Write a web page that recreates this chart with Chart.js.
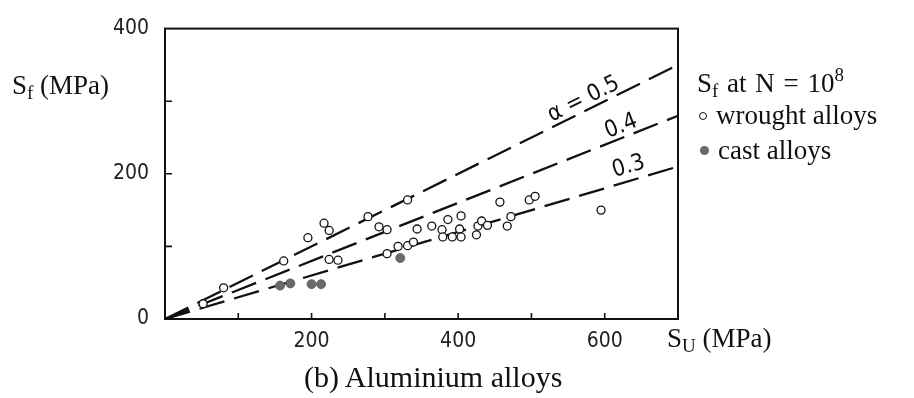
<!DOCTYPE html>
<html lang="en">
<head>
<meta charset="UTF-8">
<title>Aluminium alloys</title>
<script src="https://cdn.jsdelivr.net/npm/chart.js"></script>
<style>
    body { margin: 0; background: #fff; }
    .wrap { position: relative; width: 914px; height: 398px; }
    .txt {
        position: absolute;
        font-family: "Liberation Serif", "Times New Roman", serif;
        font-size: 27px;
        line-height: 1;
        color: #111;
        white-space: nowrap;
    }
    .txt sub { font-size: 19px; vertical-align: -5px; }
    .txt sup { font-size: 19px; vertical-align: 11px; }
    .dot { display: inline-block; border-radius: 50%; vertical-align: 4px; margin-right: 9px; }
    .open { width: 6px; height: 6px; border: 1.4px solid #111; }
    .full { width: 9px; height: 9px; background: #6a6a6a; }
</style>
</head>
<body>
<div class="wrap">
    <canvas id="chart" width="914" height="398"></canvas>
    <div class="txt" style="left:12px; top:72px;">S<sub>f</sub> (MPa)</div>
    <div class="txt" style="left:667px; top:325px;">S<sub>U</sub> (MPa)</div>
    <div class="txt" style="left:697px; top:65px; word-spacing:2px;">S<sub>f</sub> at N = 10<sup>8</sup></div>
    <div class="txt" style="left:699px; top:102px;"><span class="dot open"></span>wrought alloys</div>
    <div class="txt" style="left:700px; top:137px;"><span class="dot full"></span>cast alloys</div>
    <div class="txt" style="left:304px; top:362px; font-size:30px;">(b) Aluminium alloys</div>
</div>

<script>
// fatigue strength vs ultimate strength, MPa
const wroughtSu = [52, 80, 162, 195, 217, 224, 224, 236, 277, 292, 303, 303, 318, 331, 331, 339, 344, 364,
    378, 379, 386, 392, 402, 404, 404, 425, 427, 432, 440, 457, 467, 472, 497, 505, 595];
const wroughtSf = [21, 43, 80, 112, 132, 122, 82, 81, 141, 127, 123, 90, 100, 164, 101, 106, 124, 128,
    123, 113, 137, 113, 124, 113, 142, 116, 128, 135, 129, 161, 128, 141, 164, 169, 150];

const castSu = [157, 171, 200, 213, 321];
const castSf = [46, 49, 48, 48, 84];

// Sf = alpha * Su reference lines
const alphas = [0.5, 0.4, 0.3];
const lineSu = [0, 700];
const lineEndSf = [350, 280, 210];
const lineNames = ["\u03b1 = 0.5", "0.4", "0.3"];

const xTickLabels = [200, 400, 600];
const yTickLabels = [0, 200, 400];

const tickFont = { family: "'DejaVu Sans Condensed', 'DejaVu Sans', sans-serif", size: 21 };

function toPoints(xs, ys) {
    return xs.map((x, i) => ({ x: x, y: ys[i] }));
}

const lineSets = alphas.map((a, i) => ({
    type: "line",
    label: lineNames[i],
    data: toPoints(lineSu, [0, lineEndSf[i]]),
    borderColor: "#111",
    borderWidth: 2.3,
    borderDash: [26, 10],
    pointRadius: 0,
    order: 2
}));

// box around plot + ticks pointing inwards
const frame = {
    id: "frame",
    beforeDatasetsDraw(chart) {
        const { ctx, chartArea: a, scales } = chart;
        ctx.save();
        ctx.strokeStyle = "#111";
        ctx.lineWidth = 2;
        ctx.strokeRect(a.left, a.top, a.right - a.left, a.bottom - a.top);
        ctx.lineWidth = 1.6;
        ctx.beginPath();
        scales.x.ticks.forEach(t => {
            if (t.value <= 0 || t.value >= 700) return;
            const px = scales.x.getPixelForValue(t.value);
            ctx.moveTo(px, a.bottom);
            ctx.lineTo(px, a.bottom - 6);
        });
        scales.y.ticks.forEach(t => {
            if (t.value <= 0 || t.value >= 400) return;
            const py = scales.y.getPixelForValue(t.value);
            ctx.moveTo(a.left, py);
            ctx.lineTo(a.left + 7, py);
        });
        ctx.stroke();
        ctx.restore();
    }
};

// alpha labels written along their lines
const labelAt = [578, 628, 638];
const labelLift = [5, 5, 8];
const lineLabels = {
    id: "lineLabels",
    afterDatasetsDraw(chart) {
        const { ctx, scales } = chart;
        ctx.save();
        ctx.fillStyle = "#111";
        ctx.font = "23px 'DejaVu Sans Condensed', 'DejaVu Sans', sans-serif";
        ctx.textAlign = "center";
        ctx.textBaseline = "alphabetic";
        alphas.forEach((a, i) => {
            const x0 = scales.x.getPixelForValue(lineSu[0]);
            const y0 = scales.y.getPixelForValue(0);
            const x1 = scales.x.getPixelForValue(lineSu[1]);
            const y1 = scales.y.getPixelForValue(lineEndSf[i]);
            const ang = Math.atan2(y1 - y0, x1 - x0);
            const su = labelAt[i];
            const px = scales.x.getPixelForValue(su);
            const py = scales.y.getPixelForValue(su * lineEndSf[i] / lineSu[1]);
            ctx.save();
            ctx.translate(px, py);
            ctx.rotate(ang);
            ctx.fillText(lineNames[i], 0, -labelLift[i]);
            ctx.restore();
        });
        ctx.restore();
    }
};

new Chart(document.getElementById("chart").getContext("2d"), {
    type: "scatter",
    data: {
        datasets: [
            {
                label: "wrought alloys",
                data: toPoints(wroughtSu, wroughtSf),
                pointRadius: 4,
                pointBorderWidth: 1.3,
                borderColor: "#111",
                backgroundColor: "#fff",
                order: 1
            },
            {
                label: "cast alloys",
                data: toPoints(castSu, castSf),
                pointRadius: 4.5,
                pointBorderWidth: 0.8,
                borderColor: "#555",
                backgroundColor: "#6a6a6a",
                order: 0
            },
            ...lineSets
        ]
    },
    options: {
        responsive: false,
        animation: false,
        devicePixelRatio: 1,
        layout: { padding: { top: 16, right: 236, left: 0, bottom: 0 } },
        plugins: { legend: { display: false }, tooltip: { enabled: false } },
        scales: {
            x: {
                type: "linear",
                min: 0,
                max: 700,
                border: { display: false },
                grid: { display: false, drawTicks: false },
                ticks: {
                    stepSize: 100,
                    padding: 10,
                    color: "#222",
                    font: tickFont,
                    maxRotation: 0,
                    autoSkip: false,
                    callback: v => xTickLabels.includes(v) ? String(v) : ""
                },
                afterFit: s => { s.height = 79; }
            },
            y: {
                type: "linear",
                min: 0,
                max: 400,
                border: { display: false },
                grid: { display: false, drawTicks: false },
                ticks: {
                    stepSize: 100,
                    padding: 16,
                    color: "#222",
                    font: tickFont,
                    autoSkip: false,
                    callback: v => yTickLabels.includes(v) ? String(v) : ""
                },
                afterFit: s => { s.width = 165; }
            }
        }
    },
    plugins: [frame, lineLabels]
});
</script>
</body>
</html>
